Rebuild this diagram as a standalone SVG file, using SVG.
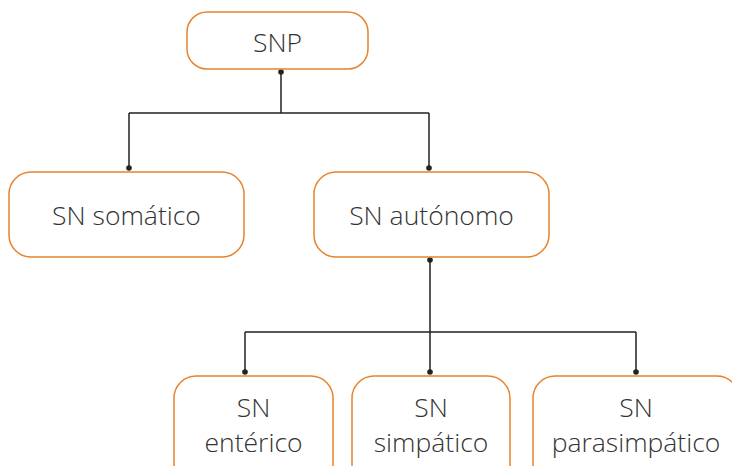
<svg xmlns="http://www.w3.org/2000/svg" width="732" height="466" viewBox="0 0 732 466">
<style>
.box{fill:#fff;stroke:#E8832E;stroke-width:1.5}
.t{font-family:"Open Sans","Noto Sans",sans-serif;font-weight:300;font-size:26.5px;fill:#333;text-anchor:middle}
.c{fill:none;stroke:#222;stroke-width:1.5}
.d{fill:#222}
</style>
<rect width="732" height="466" fill="#fff"/>
<g id="connectors">
<path class="c" d="M281 72 V113 M129 113 H429 M129 113 V168 M429 113 V168"/>
<path class="c" d="M430 260 V332 M245 332 H636 M245 332 V372 M430 332 V372 M636 332 V372"/>
<circle class="d" cx="281" cy="72" r="2.8"/>
<circle class="d" cx="129" cy="168" r="2.8"/>
<circle class="d" cx="429" cy="168" r="2.8"/>
<circle class="d" cx="430" cy="260" r="2.8"/>
<circle class="d" cx="245" cy="372" r="2.8"/>
<circle class="d" cx="430" cy="372" r="2.8"/>
<circle class="d" cx="636" cy="372" r="2.8"/>
</g>
<g id="snp">
<rect class="box" x="187" y="12" width="181" height="57" rx="20"/>
<text class="t" x="277.5" y="52">SNP</text>
</g>
<g id="somatico">
<rect class="box" x="9" y="172" width="235" height="85" rx="22"/>
<text class="t" x="126.5" y="225">SN somático</text>
</g>
<g id="autonomo">
<rect class="box" x="314" y="172" width="235" height="85" rx="22"/>
<text class="t" x="431.5" y="225">SN autónomo</text>
</g>
<g id="enterico">
<rect class="box" x="174" y="376" width="159" height="110" rx="22"/>
<text class="t" x="253.5" y="417">SN</text>
<text class="t" x="253.5" y="452">entérico</text>
</g>
<g id="simpatico">
<rect class="box" x="352" y="376" width="158" height="110" rx="22"/>
<text class="t" x="431" y="417">SN</text>
<text class="t" x="431" y="452">simpático</text>
</g>
<g id="parasimpatico">
<rect class="box" x="533" y="376" width="206" height="110" rx="22"/>
<text class="t" x="636" y="417">SN</text>
<text class="t" x="636" y="452">parasimpático</text>
</g>
</svg>
